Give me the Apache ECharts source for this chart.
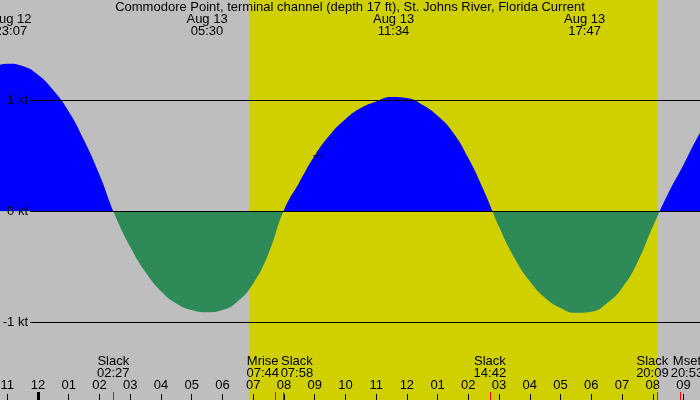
<!DOCTYPE html>
<html>
<head>
<meta charset="utf-8">
<script src="https://cdn.jsdelivr.net/npm/echarts@6/dist/echarts.min.js"></script>
<style>
  html, body { margin: 0; padding: 0; background: #bebebe; }
  #main { width: 700px; height: 400px; }
</style>
</head>
<body>
<div id="main"></div>
<script>
// hours counted from midnight Aug 13 (half-hour readings), current in knots (+ flood, - ebb)
const flowTimes = [-1.5, -1, -0.5, 0, 0.5, 1, 1.5, 2, 2.5, 3, 3.5, 4, 4.5, 5, 5.5, 6, 6.5, 7, 7.5, 8,
  8.5, 9, 9.5, 10, 10.5, 11, 11.5, 12, 12.5, 13, 13.5, 14, 14.5, 15, 15.5, 16, 16.5, 17, 17.5, 18,
  18.5, 19, 19.5, 20, 20.5, 21, 21.5, 22];
const flowKnots = [1.29, 1.33, 1.31, 1.23, 1.09, 0.90, 0.64, 0.33, -0.03, -0.32, -0.55, -0.72, -0.83, -0.89,
  -0.91, -0.89, -0.81, -0.65, -0.38, 0.01,
  0.26, 0.50, 0.69, 0.83, 0.93, 0.99, 1.03, 1.02, 0.96, 0.86, 0.71, 0.48, 0.19, -0.14, -0.42, -0.63,
  -0.78, -0.87, -0.915, -0.905, -0.83, -0.69, -0.46, -0.14, 0.16, 0.42, 0.69, 0.92];

const hourTicks = [-1, 0, 1, 2, 3, 4, 5, 6, 7, 8, 9, 10, 11, 12, 13, 14, 15, 16, 17, 18, 19, 20, 21];
const midnightTicks = [0];

const slackTimes = [2.45, 7.967, 14.7, 20.15];
const slackClock = ['02:27', '07:58', '14:42', '20:09'];
const moonTimes = [7.733, 20.883];
const moonNames = ['Mrise', 'Mset'];
const moonClock = ['07:44', '20:53'];

const peakTimes = [-0.883, 5.5, 11.567, 17.783];
const peakDates = ['Aug 12', 'Aug 13', 'Aug 13', 'Aug 13'];
const peakClock = ['23:07', '05:30', '11:34', '17:47'];

const sunrise = 6.86;
const sunset = 20.15;
const levelLines = [1, -1];
const knotTicks = [1, 0, -1];
const cursorTime = 9.09;
const cursorKnots = 0.50;

const xMin = -1.236, xMax = 21.536;
const yMin = -1.7, yMax = 1.904;
const FONT = 'Liberation Sans';
const FLOOD = '#0000ff', EBB = '#2e8b57';
// label nudges (px) so neighbouring event labels don't collide
const slackNudge = [0, 14, 0, -5];
const moonNudge = [-13, 7];

const lineStart = xMin + (xMax - xMin) * 30 / 700;

function findIdx(arr, v) {
  let best = 0;
  arr.forEach((t, i) => { if (Math.abs(t - v) < Math.abs(arr[best] - v)) best = i; });
  return best;
}

function nudgeStyles(nudges) {
  const rich = {};
  nudges.forEach((n, i) => {
    rich['e' + i] = {
      fontFamily: FONT, fontSize: 13, lineHeight: 12, color: '#000',
      padding: n < 0 ? [0, -2 * n, 0, 0] : [0, 0, 0, 2 * n]
    };
  });
  return rich;
}

const hideAxis = { show: false, onZero: false };
const baseX = {
  type: 'value', min: xMin, max: xMax, gridIndex: 0, z: 5,
  axisLine: hideAxis, splitLine: { show: false }
};
const baseLabel = {
  inside: true, fontFamily: FONT, fontSize: 13, color: '#000',
  showMinLabel: true, showMaxLabel: true, hideOverlap: false
};

function eventAxis(times, names, clocks, nudges) {
  return Object.assign({}, baseX, {
    position: 'bottom',
    axisTick: { inside: true, length: 8, customValues: times, lineStyle: { color: '#ff0000', width: 1 } },
    axisLabel: Object.assign({}, baseLabel, {
      margin: 21, lineHeight: 12, customValues: times,
      formatter: v => {
        const i = findIdx(times, v);
        const name = typeof names === 'string' ? names : names[i];
        return '{e' + i + '|' + name + '}\n{e' + i + '|' + clocks[i] + '}';
      },
      rich: nudgeStyles(nudges)
    })
  });
}

const myChart = echarts.init(document.getElementById('main'));
const H = myChart.getHeight();
// grid fills the whole canvas, so 0 kt sits at this fraction of the height
const zeroFrac = (yMax - 0) / (yMax - yMin);

myChart.setOption({
  backgroundColor: '#bebebe',
  animation: false,
  title: {
    text: 'Commodore Point, terminal channel (depth 17 ft), St. Johns River, Florida Current',
    left: 'center', top: 1, padding: 0, z: 6,
    textStyle: { fontFamily: FONT, fontSize: 13, fontWeight: 'normal', color: '#000', lineHeight: 13 }
  },
  grid: { left: 0, right: 0, top: 0, bottom: 0, outerBoundsMode: 'none', containLabel: false },
  xAxis: [
    Object.assign({}, baseX, {
      position: 'bottom',
      axisTick: { inside: true, length: 6, customValues: hourTicks, lineStyle: { color: '#000', width: 1 } },
      axisLabel: Object.assign({}, baseLabel, {
        margin: 8, customValues: hourTicks,
        formatter: v => {
          let h = ((Math.round(v) % 12) + 12) % 12;
          if (h === 0) h = 12;
          return String(h).padStart(2, '0');
        }
      })
    }),
    Object.assign({}, baseX, {
      position: 'bottom',
      axisTick: { inside: true, length: 8, customValues: midnightTicks, lineStyle: { color: '#000', width: 3 } },
      axisLabel: { show: false }
    }),
    eventAxis(slackTimes, 'Slack', slackClock, slackNudge),
    eventAxis(moonTimes, moonNames, moonClock, moonNudge),
    Object.assign({}, baseX, {
      position: 'top',
      axisTick: { show: false },
      axisLabel: Object.assign({}, baseLabel, {
        margin: 13, lineHeight: 12, customValues: peakTimes,
        formatter: v => {
          const i = findIdx(peakTimes, v);
          return peakDates[i] + '\n' + peakClock[i];
        }
      })
    })
  ],
  yAxis: {
    type: 'value', min: yMin, max: yMax, position: 'left', z: 5,
    axisLine: hideAxis, axisTick: { show: false }, splitLine: { show: false },
    axisLabel: Object.assign({}, baseLabel, {
      align: 'right', margin: 28, customValues: knotTicks,
      formatter: v => v + ' kt'
    })
  },
  series: [
    {
      name: 'daylight', type: 'line', data: [], z: 1, silent: true,
      markArea: {
        silent: true,
        itemStyle: { color: '#d0d000' },
        data: [[{ xAxis: sunrise }, { xAxis: sunset }]]
      }
    },
    {
      name: 'levels', type: 'line', data: [], z: 1, silent: true,
      markLine: {
        silent: true, symbol: 'none', label: { show: false },
        lineStyle: { color: '#000', width: 1, type: 'solid' },
        data: levelLines.map(v => [{ coord: [lineStart, v] }, { coord: [xMax, v] }])
      }
    },
    {
      name: 'current', type: 'line', z: 2, smooth: 0.5, symbol: 'none', silent: true,
      lineStyle: { width: 0, opacity: 0 },
      areaStyle: {
        opacity: 1, origin: 0,
        color: {
          type: 'linear', x: 0, y: 0, x2: 0, y2: H, global: true,
          colorStops: [
            { offset: 0, color: FLOOD }, { offset: zeroFrac, color: FLOOD },
            { offset: zeroFrac, color: EBB }, { offset: 1, color: EBB }
          ]
        }
      },
      data: flowTimes.map((t, i) => [t, flowKnots[i]])
    },
    {
      name: 'zero', type: 'line', data: [], z: 3, silent: true,
      markLine: {
        silent: true, symbol: 'none', label: { show: false },
        lineStyle: { color: '#000', width: 1, type: 'solid' },
        data: [[{ coord: [lineStart, 0] }, { coord: [xMax, 0] }]]
      }
    },
    {
      name: 'cursor', type: 'scatter', z: 4, silent: true,
      symbol: 'path://M4,0H5V4H9V5H5V9H4V5H0V4H4Z', symbolSize: 9,
      itemStyle: { color: '#000' },
      data: [[cursorTime, cursorKnots]]
    }
  ]
});
</script>
</body>
</html>
